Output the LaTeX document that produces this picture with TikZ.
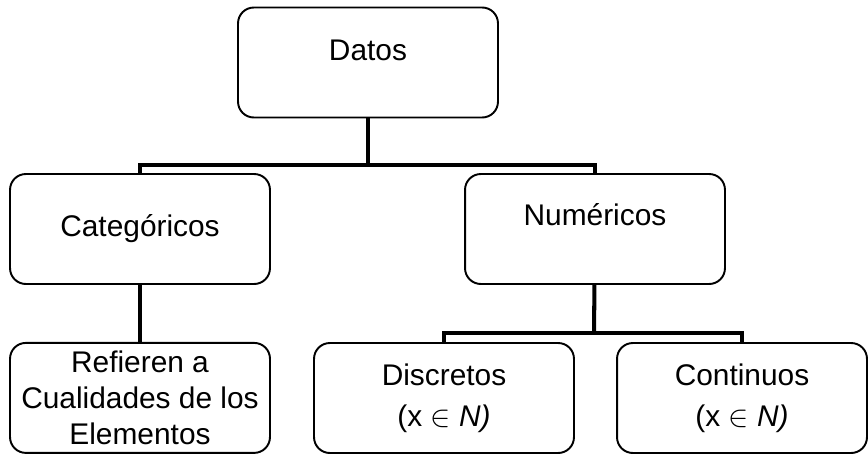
\documentclass[tikz,border=0pt]{standalone}
\usepackage{fontspec}
\setmainfont{Liberation Sans}
\usetikzlibrary{positioning}

\begin{document}
\begin{tikzpicture}[
    x=0.02cm, y=-0.02cm,
    box/.style={draw, line width=1.1pt, rounded corners=9pt, minimum width=5.2cm, minimum height=2.2cm, align=center, font=\fontsize{17}{20.5}\selectfont},
    link/.style={line width=2.3pt}
  ]
    \useasboundingbox (0,0) rectangle (868,453);

    \node[box] (datos) at (368,62.5) {Datos\\[-6pt]~};
    \node[box] (cat) at (140,229) {Categóricos};
    \node[box] (num) at (595,229) {Numéricos\\[-4pt]~};
    \node[box, below=1.14cm of cat] (ref) {Refieren a\\Cualidades de los\\Elementos};
    \node[box] (disc) at (444,398) {Discretos\\[3pt](x $\in$ \textit{N)}};
    \node[box, minimum width=5cm] (cont) at (742,398) {Continuos\\[3pt](x $\in$ \textit{N)}};

    % junctions of the tree
    \coordinate (split1) at (368,165);
    \coordinate (split2) at (594,333);

    \draw[link] (datos) -- (split1);
    \draw[link] (cat.north) |- (split1) -| (num.north);
    \draw[link] (cat) -- (ref);
    \draw[link] (num) -- (split2);
    \draw[link] (disc.north) |- (split2) -| (cont.north);
  \end{tikzpicture}
\end{document}
